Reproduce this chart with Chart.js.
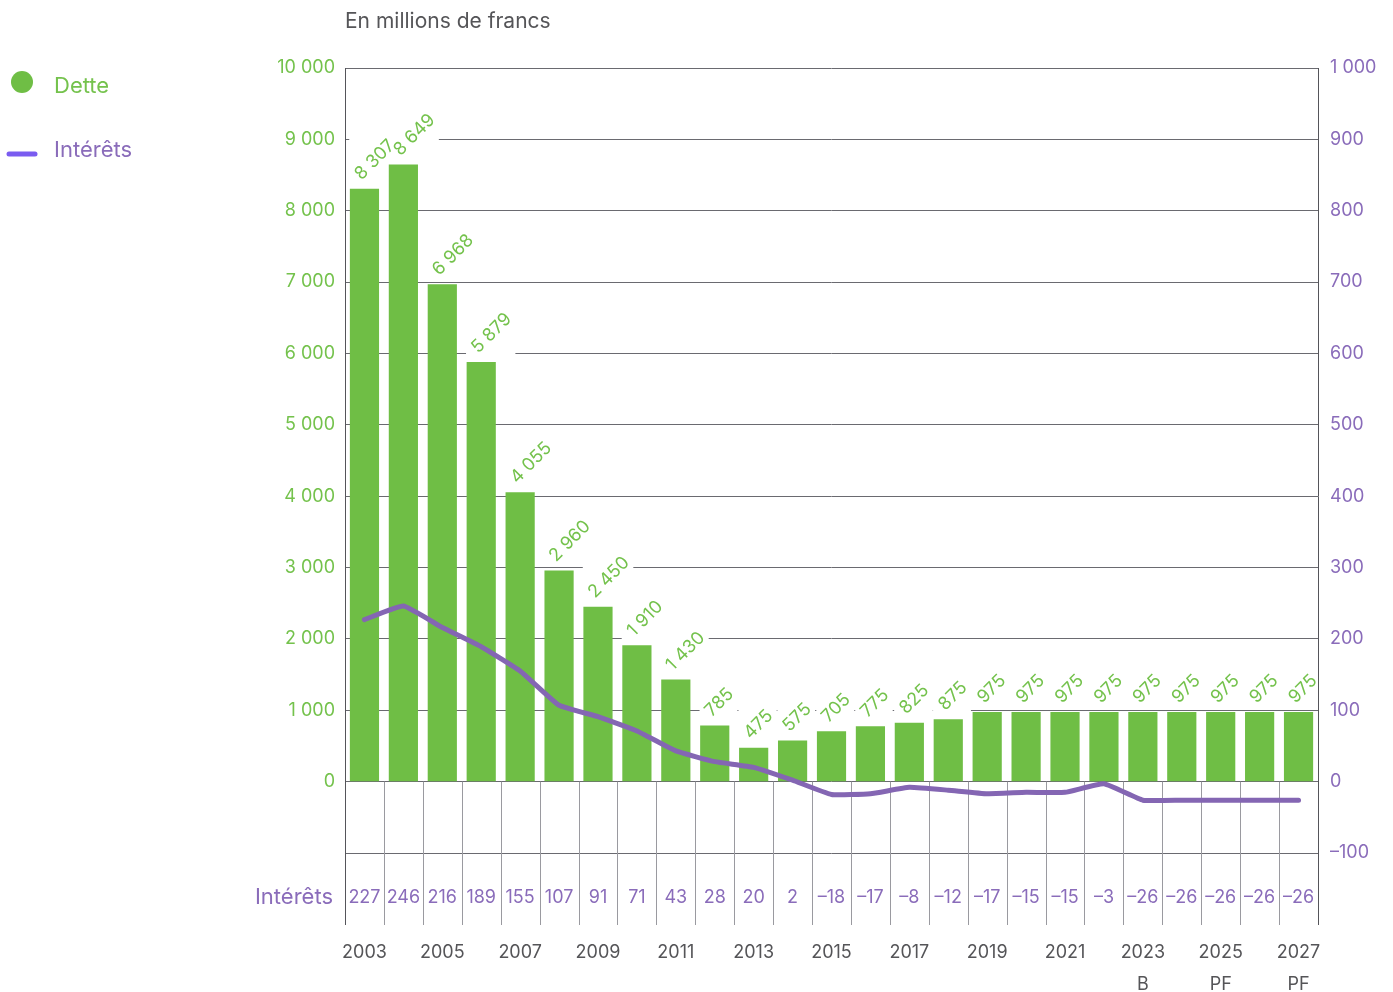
<!DOCTYPE html>
<html>
<head>
<meta charset="utf-8">
<script src="https://cdn.jsdelivr.net/npm/chart.js@4.4.1/dist/chart.umd.min.js"></script>
<style>
html,body{margin:0;padding:0;background:#fff;}
canvas{display:block;}
</style>
</head>
<body>
<canvas id="c" width="1393" height="992"></canvas>
<script>
const years = ['2003','2004','2005','2006','2007','2008','2009','2010','2011','2012','2013','2014','2015','2016','2017','2018','2019','2020','2021','2022','2023','2024','2025','2026','2027'];
const yearNotes = ['','','','','','','','','','','','','','','','','','','','','B','','PF','','PF'];
const dette = [8307,8649,6968,5879,4055,2960,2450,1910,1430,785,475,575,705,775,825,875,975,975,975,975,975,975,975,975,975];
const interets = [227,246,216,189,155,107,91,71,43,28,20,2,-18,-17,-8,-12,-17,-15,-15,-3,-26,-26,-26,-26,-26];
const title = 'En millions de francs';
const seriesNames = ['Dette','Intérêts'];

const GREEN = '#6fbe45';
const GREEN_TXT = '#74c24c';
const PURPLE = '#8466b3';
const PURPLE_TXT = '#8a6cba';
const LEGEND_LINE = '#7a5cf0';
const GRAY_TXT = '#555558';
const FONT = 'Inter, "Liberation Sans", sans-serif';
const LBL_SIZE = 18;

function fmt(n){
  const s = Math.abs(n).toString().replace(/\B(?=(\d{3})+(?!\d))/g,' ');
  return (n<0?'\u2013':'') + s;
}

function labelGeom(ctx, el, v){
  const t = fmt(v);
  const w = ctx.measureText(t).width;
  const a = 13;
  const ox = el.x - 3, oy = el.y - 8;
  const k = Math.SQRT1_2;
  return {t, ox, oy, x0: ox - a*k - 3, x1: ox + w*k + 3, y0: oy - (w+a)*k - 3, y1: oy + 2};
}

const extras = {
  id:'extras',
  beforeDatasetsDraw(chart){
    const ctx = chart.ctx;
    const ys = chart.scales.y;
    const ca = chart.chartArea;
    ctx.save();
    ctx.font = LBL_SIZE + 'px ' + FONT;
    const meta = chart.getDatasetMeta(1);
    meta.data.forEach((el,i)=>{
      const g = labelGeom(ctx, el, dette[i]);
      ctx.fillStyle = '#fff';
      ctx.fillRect(g.x0, g.y0, g.x1-g.x0, g.y1-g.y0);
    });
    const n = years.length;
    const cw = (ca.right - ca.left)/n;
    const y0 = ys.getPixelForValue(0);
    const yb = 925;
    for(let k=0;k<=n;k++){
      const x = Math.round(ca.left + k*cw) + 0.5;
      ctx.beginPath();
      if(k===0 || k===n){
        ctx.strokeStyle = '#55555a';
        ctx.moveTo(x, ca.top); ctx.lineTo(x, yb);
      } else {
        ctx.strokeStyle = '#9a9aa0';
        ctx.moveTo(x, y0); ctx.lineTo(x, yb);
      }
      ctx.lineWidth = 1;
      ctx.stroke();
    }
    ctx.restore();
  },
  afterDatasetsDraw(chart){
    const ctx = chart.ctx;
    ctx.save();
    ctx.font = LBL_SIZE + 'px ' + FONT;
    ctx.fillStyle = GREEN_TXT;
    ctx.textAlign = 'left';
    ctx.textBaseline = 'alphabetic';
    const meta = chart.getDatasetMeta(1);
    meta.data.forEach((el,i)=>{
      const g = labelGeom(ctx, el, dette[i]);
      ctx.save();
      ctx.translate(g.ox, g.oy);
      ctx.rotate(-Math.PI/4);
      ctx.fillText(g.t, 0, 0);
      ctx.restore();
    });
    ctx.restore();
  },
  afterDraw(chart){
    const ctx = chart.ctx;
    const xs = chart.scales.x;
    ctx.save();
    ctx.font = '21px ' + FONT;
    ctx.fillStyle = GRAY_TXT;
    ctx.textAlign = 'left';
    ctx.textBaseline = 'middle';
    ctx.fillText(title, 345, 22);
    ctx.fillStyle = GREEN;
    ctx.beginPath(); ctx.arc(22, 82, 11, 0, Math.PI*2); ctx.fill();
    ctx.font = '22px ' + FONT;
    ctx.fillStyle = GREEN_TXT;
    ctx.fillText(seriesNames[0], 54, 86);
    ctx.strokeStyle = LEGEND_LINE;
    ctx.lineWidth = 5; ctx.lineCap = 'round';
    ctx.beginPath(); ctx.moveTo(9, 154); ctx.lineTo(35, 154); ctx.stroke();
    ctx.fillStyle = PURPLE_TXT;
    ctx.fillText(seriesNames[1], 54, 150);
    ctx.textAlign = 'right';
    ctx.font = '22px ' + FONT;
    ctx.fillText(seriesNames[1], 333, 897);
    ctx.textAlign = 'center';
    ctx.font = '18px ' + FONT;
    years.forEach((y,i)=>{
      const x = xs.getPixelForValue(i);
      ctx.fillStyle = PURPLE_TXT;
      ctx.fillText(fmt(interets[i]), x, 898);
      if(i%2===0){
        ctx.fillStyle = GRAY_TXT;
        ctx.fillText(y, x, 953);
      }
      if(yearNotes[i]){
        ctx.fillStyle = GRAY_TXT;
        ctx.fillText(yearNotes[i], x, 985);
      }
    });
    ctx.restore();
  }
};

new Chart(document.getElementById('c'), {
  data: {
    labels: years,
    datasets: [
      {type:'line', label: seriesNames[1], data: interets, yAxisID:'y2', borderColor: PURPLE, borderWidth: 5,
       pointRadius: 0, tension: 0.12, borderCapStyle:'round', borderJoinStyle:'round', order: 0},
      {type:'bar', label: seriesNames[0], data: dette, yAxisID:'y', backgroundColor: GREEN,
       barPercentage: 0.75, categoryPercentage: 1, order: 1}
    ]
  },
  options: {
    responsive:false, animation:false, devicePixelRatio:1,
    layout:{padding:{top:68, bottom:139, left:0, right:0}},
    plugins:{legend:{display:false}, tooltip:{enabled:false}},
    scales:{
      x:{type:'category', display:false, offset:true, grid:{display:false}},
      y:{position:'left', min:-1000, max:10000,
         ticks:{stepSize:1000, color:GREEN_TXT, font:{family:FONT, size:18}, padding:10,
                callback:v=> v<0 ? '' : fmt(v)},
         grid:{color:'#6a6a70', lineWidth:1, drawTicks:false},
         border:{display:false},
         afterFit:s=>{s.width=345;}},
      y2:{position:'right', min:-100, max:1000,
         ticks:{stepSize:100, color:PURPLE_TXT, font:{family:FONT, size:18}, padding:12,
                callback:v=> fmt(v)},
         grid:{drawOnChartArea:false, drawTicks:false},
         border:{display:false},
         afterFit:s=>{s.width=75;}}
    }
  },
  plugins:[extras]
});
</script>
</body>
</html>
